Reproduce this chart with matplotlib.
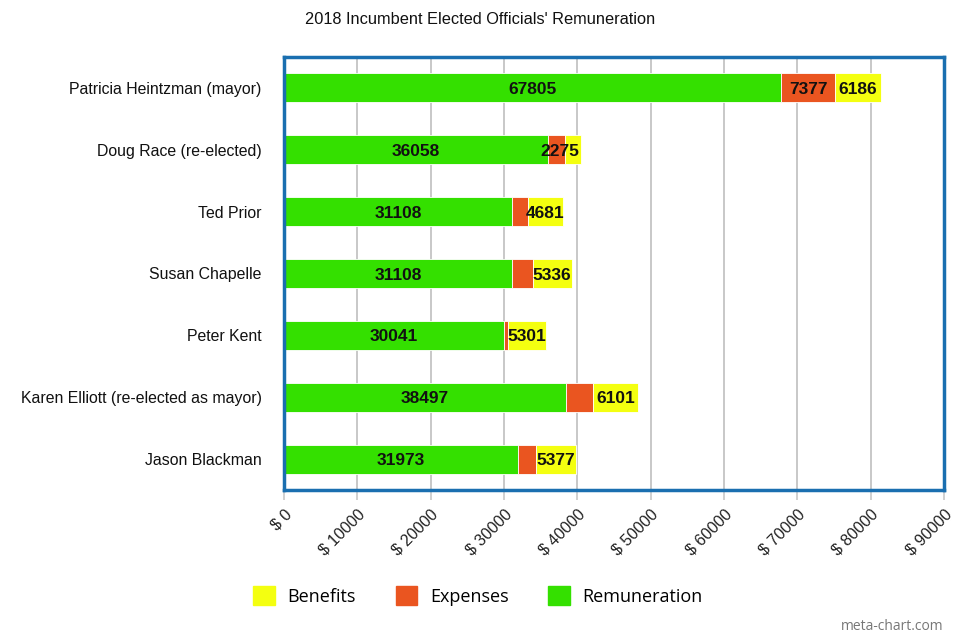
import matplotlib
matplotlib.use("Agg")
import matplotlib.pyplot as plt
from matplotlib.patches import Patch

names = ["Patricia Heintzman (mayor)", "Doug Race (re-elected)", "Ted Prior",
         "Susan Chapelle", "Peter Kent", "Karen Elliott (re-elected as mayor)",
         "Jason Blackman"]
remuneration = [67805, 36058, 31108, 31108, 30041, 38497, 31973]
expenses = [7377, 2275, 2200, 2800, 450, 3650, 2400]
benefits = [6186, 2150, 4681, 5336, 5301, 6101, 5377]
# which segment values are printed on the bars
show_exp = [True, True, False, False, False, False, False]
show_ben = [True, False, True, True, True, True, True]
xticks = list(range(0, 90001, 10000))
xticklabels = [f"$ {v}" for v in xticks]

C_REM = "#34e000"
C_EXP = "#ea5520"
C_BEN = "#f4ff10"
C_BOX = "#1a6fb0"

plt.rcParams["font.family"] = ["Liberation Sans", "DejaVu Sans"]

fig = plt.figure(figsize=(9.6, 6.4), dpi=100)
ax = fig.add_axes([284/960, 1-490/640, 660/960, 433/640])

y = list(range(len(names)))
h = 0.47
left_exp = remuneration
left_ben = [r + e for r, e in zip(remuneration, expenses)]
ax.barh(y, remuneration, height=h, color=C_REM, edgecolor="white", linewidth=0.6, zorder=3)
ax.barh(y, expenses, left=left_exp, height=h, color=C_EXP, edgecolor="white", linewidth=0.6, zorder=3)
ax.barh(y, benefits, left=left_ben, height=h, color=C_BEN, edgecolor="white", linewidth=0.6, zorder=3)

lab_kw = dict(ha="center", va="center_baseline", fontsize=12.5, fontweight="bold",
              color="#111111", zorder=4)
for i in y:
    ax.text(remuneration[i] / 2, i, f"{remuneration[i]}", **lab_kw)
    if show_exp[i]:
        ax.text(left_exp[i] + expenses[i] / 2 + (400 if i == 1 else 0), i, f"{expenses[i]}", **lab_kw)
    if show_ben[i]:
        ax.text(left_ben[i] + benefits[i] / 2, i, f"{benefits[i]}", **lab_kw)

ax.set_xlim(0, 90000)
ax.set_ylim(len(names) - 0.5, -0.5)
ax.set_yticks(y)
ax.set_yticklabels(names, fontsize=11.4, color="#111111")
ax.tick_params(axis="y", length=0, pad=16)
ax.set_xticks(xticks)
ax.set_xticklabels(xticklabels, rotation=45, ha="right", rotation_mode="anchor",
                   fontsize=11.5, color="#222222")
ax.tick_params(axis="x", length=7, color="#c8c8c8", width=1.2, pad=5)
ax.grid(axis="x", color="#c4c4c4", linewidth=1.3, zorder=0)
for s in ax.spines.values():
    s.set_color(C_BOX)
    s.set_linewidth(2.5)
    s.set_zorder(5)

fig.text(480/960, 1-20/640, "2018 Incumbent Elected Officials' Remuneration",
         ha="center", va="center", fontsize=11.8, color="#111111")

handles = [Patch(color=C_BEN, label="Benefits"), Patch(color=C_EXP, label="Expenses"),
           Patch(color=C_REM, label="Remuneration")]
fig.legend(handles=handles, loc="center", bbox_to_anchor=(478/960, 1-596/640), ncol=3,
           frameon=False, prop={"family": "Open Sans", "size": 13},
           handlelength=1.2, handleheight=1.2, handletextpad=0.7, columnspacing=2.2)
fig.text(943/960, 1-627/640, "meta-chart.com", ha="right", va="center",
         fontsize=10, color="#777777", family="Open Sans")

fig.savefig("out.png", dpi=100, facecolor="white")
